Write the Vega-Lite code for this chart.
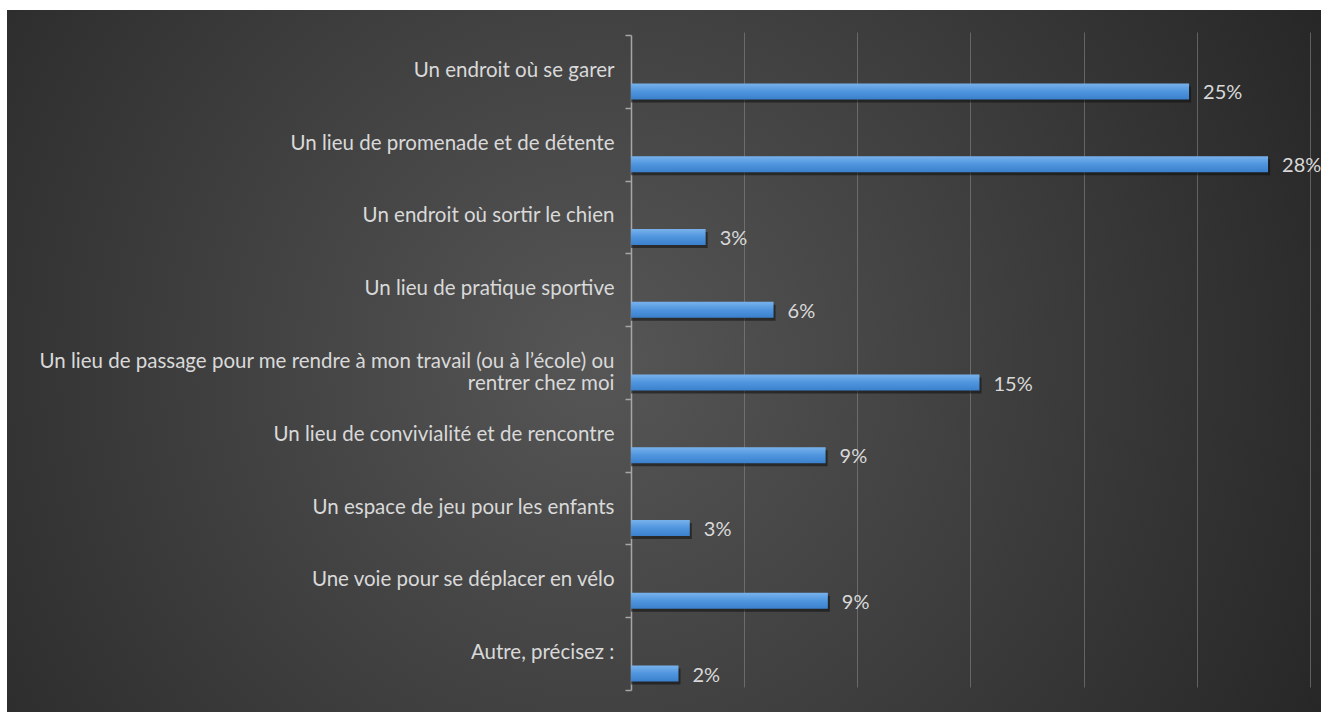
{
  "$schema": "https://vega.github.io/schema/vega-lite/v6.json",
  "width": 1314,
  "height": 702,
  "padding": {"left": 7, "top": 10, "right": 0, "bottom": 0},
  "autosize": {"type": "none"},
  "background": "white",
  "config": {
    "font": "Lato",
    "view": {
      "stroke": null,
      "fill": {
        "gradient": "radial",
        "x1": 0.45, "y1": 0.5, "r1": 0,
        "x2": 0.45, "y2": 0.5, "r2": 0.75,
        "stops": [
          {"offset": 0, "color": "#565656"},
          {"offset": 1, "color": "#1c1c1c"}
        ]
      }
    }
  },
  "data": {
    "values": [
      {"cat": "Un endroit où se garer", "v": 0.2466},
      {"cat": "Un lieu de promenade et de détente", "v": 0.2815},
      {"cat": "Un endroit où sortir le chien", "v": 0.033},
      {"cat": "Un lieu de pratique sportive", "v": 0.063},
      {"cat": "Un lieu de passage pour me rendre à mon travail (ou à l’école) ou|rentrer chez moi", "v": 0.154},
      {"cat": "Un lieu de convivialité et de rencontre", "v": 0.086},
      {"cat": "Un espace de jeu pour les enfants", "v": 0.026},
      {"cat": "Une voie pour se déplacer en vélo", "v": 0.087},
      {"cat": "Autre, précisez :", "v": 0.021}
    ]
  },
  "encoding": {
    "y": {
      "field": "cat",
      "type": "nominal",
      "sort": null,
      "scale": {"range": [25, 680], "paddingInner": 0, "paddingOuter": 0},
      "axis": {
        "title": null,
        "offset": -624,
        "domainColor": "#a6a6a6",
        "domainWidth": 1.5,
        "tickColor": "#a6a6a6",
        "tickWidth": 1.5,
        "tickSize": 6,
        "tickBand": "extent",
        "labelColor": "#d9d9d9",
        "labelFont": "Lato",
        "labelFontSize": 20.5,
        "labelPadding": 11,
        "labelLimit": 900,
        "labelLineHeight": 22,
        "labelOffset": -1,
        "labelExpr": "split(datum.label, '|')",
        "grid": false
      }
    },
    "x": {
      "field": "v",
      "type": "quantitative",
      "scale": {"domain": [-0.2757, 0.3049], "nice": false, "zero": false},
      "axis": {
        "title": null,
        "values": [0.05, 0.1, 0.15, 0.2, 0.25, 0.3],
        "labels": false,
        "ticks": false,
        "domain": false,
        "grid": true,
        "gridColor": "#8c8c8c",
        "gridOpacity": 0.55,
        "gridWidth": 1
      }
    }
  },
  "layer": [
    {
      "mark": {"type": "bar", "height": 16, "yOffset": 23, "xOffset": 2, "color": "#0e0e0e", "opacity": 0.55},
      "encoding": {"x2": {"datum": 0}}
    },
    {
      "mark": {
        "type": "bar",
        "height": 16,
        "yOffset": 20,
        "color": {
          "gradient": "linear",
          "x1": 0, "y1": 0, "x2": 0, "y2": 1,
          "stops": [
            {"offset": 0, "color": "#78b2ec"},
            {"offset": 0.5, "color": "#4f95de"},
            {"offset": 1, "color": "#3a80cc"}
          ]
        }
      },
      "encoding": {"x2": {"datum": 0}}
    },
    {
      "mark": {"type": "text", "align": "left", "baseline": "middle", "dx": 14, "yOffset": 22, "fontSize": 20, "color": "#d9d9d9", "font": "Lato"},
      "encoding": {"text": {"field": "v", "type": "quantitative", "format": ".0%"}}
    }
  ]
}
